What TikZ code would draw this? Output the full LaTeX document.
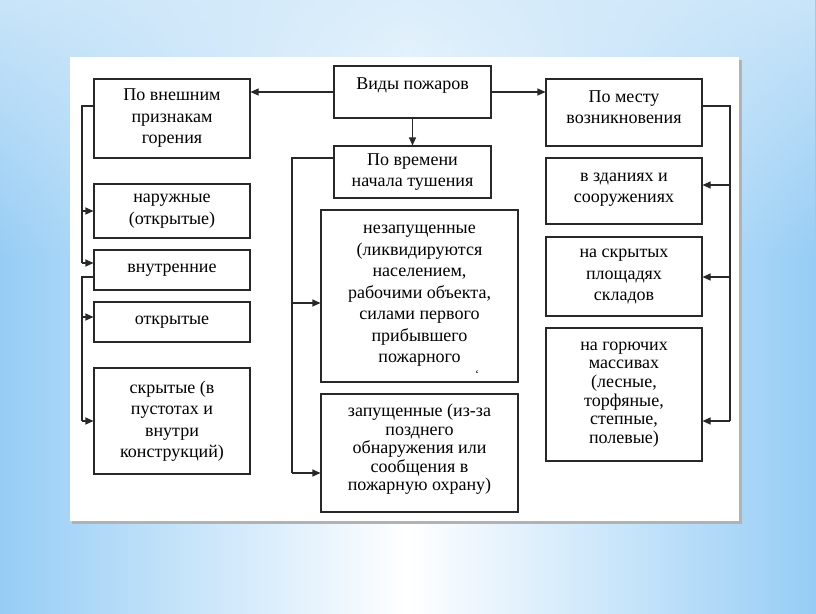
\documentclass[tikz,border=0pt]{standalone}
\usepackage{fontspec}
\setmainfont{Liberation Serif}
\usetikzlibrary{arrows.meta,fadings}
\definecolor{edgeblue}{RGB}{150,205,245}
\definecolor{topblue}{RGB}{212,234,250}
\definecolor{linecol}{RGB}{40,40,40}
\tikzfading[name=fadedown, top color=transparent!0, bottom color=transparent!100]
\newcommand{\uptext}[2]{\raisebox{#1}[\height][\depth]{\begin{tabular}{@{}c@{}}#2\end{tabular}}}
\begin{document}
\begin{tikzpicture}[x=1pt,y=-1pt,
  box/.style={draw=linecol, line width=1.1pt, fill=white, align=center, inner sep=0pt,
    font=\fontsize{18}{21.5}\selectfont},
  tight/.style={font=\fontsize{18}{18.6}\selectfont},
  conn/.style={draw=linecol, line width=1.1pt},
  arr/.style={conn, -{Triangle[length=8pt,width=7pt]}}]
\useasboundingbox (0,0) rectangle (816,613);
\shade[left color=edgeblue, right color=edgeblue, middle color=white] (0,0) rectangle (816,613);
\fill[topblue, path fading=fadedown] (0,-60) rectangle (816,260);
\fill[black!30] (72,60) rectangle (742,524);
\fill[white] (70,57) rectangle (739,521);
% left column
\node[box, minimum width=156pt, minimum height=79pt] (ext) at (172,118.5) {По внешним\\признакам\\горения};
\node[box, minimum width=156pt, minimum height=54pt] (nar) at (172,211) {наружные\\(открытые)};
\node[box, minimum width=156pt, minimum height=40pt] (vnu) at (172,270) {внутренние};
\node[box, minimum width=156pt, minimum height=40pt] (otk) at (172,322) {открытые};
\node[box, minimum width=156pt, minimum height=106pt] (skr) at (172,421) {скрытые (в\\пустотах и\\внутри\\конструкций)};
% middle column
\node[box, minimum width=157pt, minimum height=52pt] (vid) at (412.5,92) {\uptext{7pt}{Виды пожаров}};
\node[box, minimum width=157pt, minimum height=52pt] (vre) at (412.5,172) {По времени\\начала тушения};
\node[box, minimum width=197pt, minimum height=172pt] (nez) at (419.5,296) {незапущенные\\(ликвидируются\\населением,\\рабочими объекта,\\силами первого\\прибывшего\\пожарного};
\node[font=\fontsize{12}{12}\selectfont, inner sep=0pt] (tick) at (477,374) {`};
\node[box, tight, minimum width=197pt, minimum height=118pt] (zap) at (419.5,453) {\uptext{3pt}{запущенные (из-за\\позднего\\обнаружения или\\сообщения в\\пожарную охрану)}};
% right column
\node[box, minimum width=156pt, minimum height=67pt] (mes) at (624,112.5) {\uptext{4pt}{По месту\\возникновения}};
\node[box, minimum width=156pt, minimum height=66pt] (zda) at (624,191) {\uptext{3.5pt}{в зданиях и\\сооружениях}};
\node[box, minimum width=156pt, minimum height=79pt] (plo) at (624,276.5) {на скрытых\\площадях\\складов};
\node[box, tight, minimum width=156pt, minimum height=133pt] (gor) at (624,394.5) {на горючих\\массивах\\(лесные,\\торфяные,\\степные,\\полевые)};
% connectors from the root
\draw[arr] (vid.west) -- (ext.east |- vid.west);
\draw[arr] (vid.east) -- (mes.west |- vid.east);
\draw[arr] (vid.south) -- (vre.north);
% left bus
\coordinate (lb1) at (82,106);
\coordinate (lb2) at (82,263);
\coordinate (lb3) at (82,277);
\coordinate (lb4) at (82,421);
\draw[conn] (ext.west |- lb1) -- (lb1) -- (lb2);
\draw[arr] (82,211) -- (nar.west |- 0,211);
\draw[arr] (lb2) -- (vnu.west |- lb2);
\draw[conn] (vnu.west |- lb3) -- (lb3) -- (lb4);
\draw[arr] (82,317) -- (otk.west |- 0,317);
\draw[arr] (lb4) -- (skr.west |- lb4);
% middle bus
\coordinate (mb1) at (292,158);
\coordinate (mb2) at (292,473);
\draw[conn] (vre.west |- mb1) -- (mb1) -- (mb2);
\draw[arr] (292,303) -- (nez.west |- 0,303);
\draw[arr] (mb2) -- (zap.west |- mb2);
% right bus
\coordinate (rb1) at (730,106);
\coordinate (rb2) at (730,421);
\draw[conn] (mes.east |- rb1) -- (rb1) -- (rb2);
\draw[arr] (730,185) -- (zda.east |- 0,185);
\draw[arr] (730,277) -- (plo.east |- 0,277);
\draw[arr] (rb2) -- (gor.east |- rb2);
\end{tikzpicture}
\end{document}
